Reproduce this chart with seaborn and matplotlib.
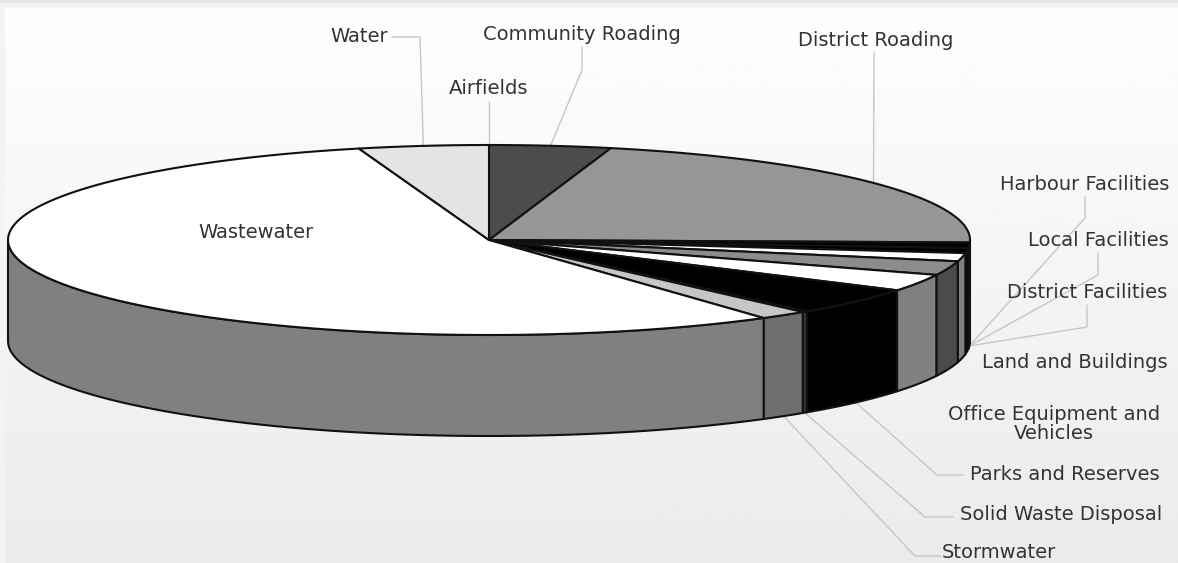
import numpy as np
import matplotlib
matplotlib.use("Agg")
import matplotlib.pyplot as plt
import seaborn as sns

# Share of asset value per activity, clockwise from twelve o'clock
categories = ["Airfields", "Community Roading", "District Roading", "Harbour Facilities",
              "Local Facilities", "District Facilities", "Land and Buildings",
              "Office Equipment and\nVehicles", "Parks and Reserves", "Solid Waste Disposal",
              "Stormwater", "Wastewater", "Water"]
shares = [0.0, 4.08, 21.33, 0.97, 0.83, 1.39, 2.39, 2.89, 4.64, 0.17, 1.64, 55.31, 4.36]
top_greys = ["#e4e4e4", "#4c4c4c", "#969696", "#000000", "#000000", "#ffffff", "#8c8c8c",
             "#ffffff", "#000000", "#4c4c4c", "#c6c6c6", "#ffffff", "#e4e4e4"]
side_greys = ["#727272", "#262626", "#4b4b4b", "#000000", "#000000", "#808080", "#4b4b4b",
              "#808080", "#000000", "#3a3a3a", "#6e6e6e", "#808080", "#727272"]

# Label centres and the elbow/end of each leader, in canvas pixels
label_xy = [(489, 89), (582, 35), (876, 40), (1085, 184), (1098, 241), (1087, 292), (1075, 363),
            (1054, 424), (1065, 474), (1061, 515), (999, 553), (256, 233), (359, 36)]
leader_via = [[(489, 102)], [(582, 70), (582, 47)], [(874, 52)], [(1085, 218), (1085, 197)],
              [(1098, 275), (1098, 253)], [(1087, 327), (1087, 305)], None, None,
              [(937, 475), (963, 475)], [(925, 517), (953, 517)], [(915, 556), (941, 556)],
              None, [(420, 37), (392, 37)]]

CX, CY, RX, RY, DEPTH = 489, 240, 481, 95, 101
W, H = 1178, 563

sns.set_theme(style="white", rc={"font.family": ["DejaVu Sans"]})
fig = plt.figure(figsize=(W / 100, H / 100), dpi=100, facecolor="#f3f3f3")
ax = fig.add_axes([0, 0, 1, 1])
ax.set_xlim(0, W)
ax.set_ylim(H, 0)
ax.axis("off")

# Panel backdrop: soft vertical fade inside a pale frame
fade = np.linspace(0.995, 0.92, 256).reshape(-1, 1)
ax.imshow(fade, cmap="gray", vmin=0, vmax=1, extent=(5, W, H, 8), aspect="auto", zorder=0)
ax.set_xlim(0, W)
ax.set_ylim(H, 0)
ax.axhspan(0, 3, color="#e4e4e4", lw=0, zorder=0.5)


def rim(t_deg, drop=0.0):
    t = np.radians(t_deg)
    return CX + RX * np.sin(t), CY - RY * np.cos(t) + drop


edges = np.concatenate([[0.0], np.cumsum(shares)]) / sum(shares) * 360.0
LINE = dict(edgecolor="#111111", linewidth=1.5, joinstyle="round")

# Walls of the disc: only the part of each slice facing the viewer
for a, b, colour in zip(edges[:-1], edges[1:], side_greys):
    lo, hi = max(a, 90.0), min(b, 270.0)
    if hi <= lo:
        continue
    ts = np.linspace(lo, hi, 80)
    xs, ys = rim(ts)
    xb, yb = rim(ts[::-1], DEPTH)
    ax.fill(np.r_[xs, xb], np.r_[ys, yb], facecolor=colour, zorder=2, **LINE)

# Top face of the disc
for a, b, colour in zip(edges[:-1], edges[1:], top_greys):
    ts = np.linspace(a, b, 120)
    xs, ys = rim(ts)
    ax.fill(np.r_[CX, xs], np.r_[CY, ys], facecolor=colour, zorder=3, **LINE)

# Leader lines run from the middle of each slice's outer edge to its label
for i, via in enumerate(leader_via):
    if via is None:
        continue
    mid = 0.5 * (edges[i] + edges[i + 1])
    facing = 90.0 < mid < 270.0
    if 90.0 < mid < 105.0:
        mid = 93.0
    start = rim(mid, DEPTH if (facing or mid == 93.0) else 0.0)
    pts = [start] + via
    sns.lineplot(x=[p[0] for p in pts], y=[p[1] for p in pts], sort=False, estimator=None,
                 color="#c6c6c6", linewidth=1.0, ax=ax, zorder=1, legend=False)

for name, (x, y) in zip(categories, label_xy):
    ax.text(x, y, name, ha="center", va="center", fontsize=14.0, color="#333333",
            linespacing=1.05, zorder=4)

ax.set_xlim(0, W)
ax.set_ylim(H, 0)
fig.savefig("out.png", dpi=100, facecolor=fig.get_facecolor())
